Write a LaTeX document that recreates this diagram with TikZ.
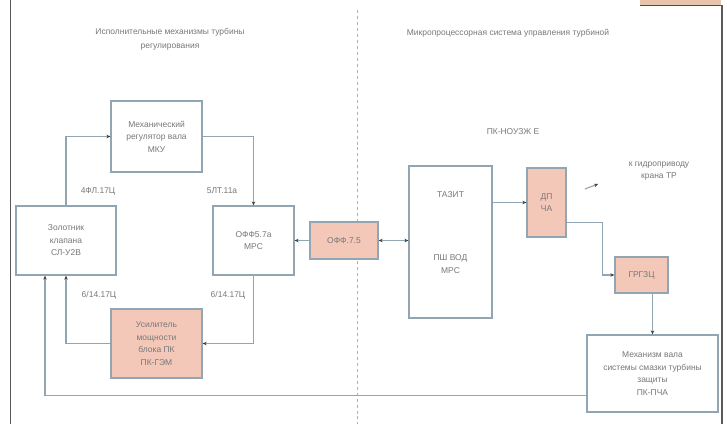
\documentclass[tikz,border=0pt]{standalone}
\usepackage{fontspec}
\setmainfont{Liberation Sans}
\usetikzlibrary{arrows.meta,positioning}
\definecolor{boxline}{RGB}{145,165,178}
\definecolor{hatchc}{RGB}{244,200,184}
\definecolor{txtc}{RGB}{120,120,120}
\definecolor{barc}{RGB}{232,196,170}

\begin{document}
\begin{tikzpicture}[x=1bp, y=-1bp, font=\fontsize{8.5}{12.5}\selectfont,
  blk/.style={draw=boxline, line width=1.3bp, fill=white, align=center, text=txtc, inner sep=1bp},
  hb/.style={blk, fill=hatchc},
  lbl/.style={text=txtc, align=center, inner sep=1bp},
  arr/.style={-{Stealth[length=4bp, width=3.5bp, color=black!75]}, draw=boxline, line width=1.1bp},
  both/.style={{Stealth[length=4bp, width=3.5bp, color=black!75]}-{Stealth[length=4bp, width=3.5bp, color=black!75]}, draw=boxline, line width=1.1bp}]
\useasboundingbox (0,0) rectangle (727,424);
% frame bits
\fill[barc] (640,0) rectangle (721,5);
\draw[black!70, line width=1bp] (640,5.5) -- (721,5.5);
\draw[black!65, line width=1.3bp] (722,5) -- (722,424);
\draw[black!65, line width=1.3bp] (10.5,0) -- (10.5,424);
\draw[black!30, dashed, line width=0.8bp] (357,10) -- (357,424);
% titles
\node[lbl, font=\fontsize{8.5}{14}\selectfont] (tl) at (170,39) {Исполнительные механизмы турбины\\регулирования};
\node[lbl] (tr) at (508,33) {Микропроцессорная система управления турбиной};
% left part
\node[blk, minimum width=91bp, minimum height=71bp] (mech) at (156.5,136.5) {Механический\\регулятор вала\\МКУ};
\node[blk, minimum width=100bp, minimum height=69bp] (zol) at (66,240.5) {Золотник\\клапана\\СЛ-У2В};
\node[blk, minimum width=81bp, minimum height=69bp] (ser) at (253.5,240.5) {ОФФ5.7а\\МРС};
\node[hb, minimum width=91bp, minimum height=69bp] (pk) at (156.5,343.5) {Усилитель\\мощности\\блока ПК\\ПК-ГЭМ};
\node[lbl] (l1) at (98,191) {4ФЛ.17Ц};
\node[lbl] (l2) at (222,191) {5ЛТ.11а};
\node[lbl] (l3) at (99,295) {6/14.17Ц};
\node[lbl] (l4) at (228,295) {6/14.17Ц};
\draw[arr] (zol.north) |- (mech.west);
\draw[arr] (mech.east) -| (ser.north);
\draw[arr] (ser.south) |- (pk.east);
\draw[arr] (pk.west) -| (zol.south);
% right part
\node[hb, minimum width=68bp, minimum height=37bp] (ifc) at (344,240.5) {ОФФ.7.5};
\node[blk, minimum width=83bp, minimum height=152bp] (cpu) at (450.5,242) {};
\node[lbl] (c1) at (450.5,195) {ТАЗИТ};
\node[lbl] (c2) at (450.5,264) {ПШ ВОД\\МРС};
\node[lbl] (pkn) at (513,132) {ПК-НОУЗЖ Е};
\node[hb, minimum width=39bp, minimum height=69bp] (dp) at (546.5,202.5) {ДП\\ЧА};
\node[lbl] (gid) at (659,171) {к гидроприводу\\крана ТР};
\node[hb, minimum width=53bp, minimum height=36bp] (grg) at (641.5,275) {ГРГЗЦ};
\node[blk, minimum width=131bp, minimum height=77bp] (mvb) at (652.5,373.5) {Механизм вала\\системы смазки турбины\\защиты\\ПК-ПЧА};
\draw[arr] (ifc.west) -- (ser.east);
\draw[both] (ifc.east) -- (cpu.west |- ifc.east);
\draw[arr] (cpu.east |- dp.west) -- (dp.west);
\coordinate (gs) at (585,189); \coordinate (ge) at (598,184);
\draw[arr] (gs) -- (ge);
\coordinate (dpo) at ([yshift=-20bp]dp.east);
\draw[arr] (dpo) -- ++(36,0) |- (grg.west);
\draw[arr] (mvb.north |- grg.south) -- (mvb.north);
\coordinate (mvo) at ([yshift=-22bp]mvb.west);
\draw[arr] (mvo) -| ([xshift=-21bp]zol.south);
\end{tikzpicture}
\end{document}
